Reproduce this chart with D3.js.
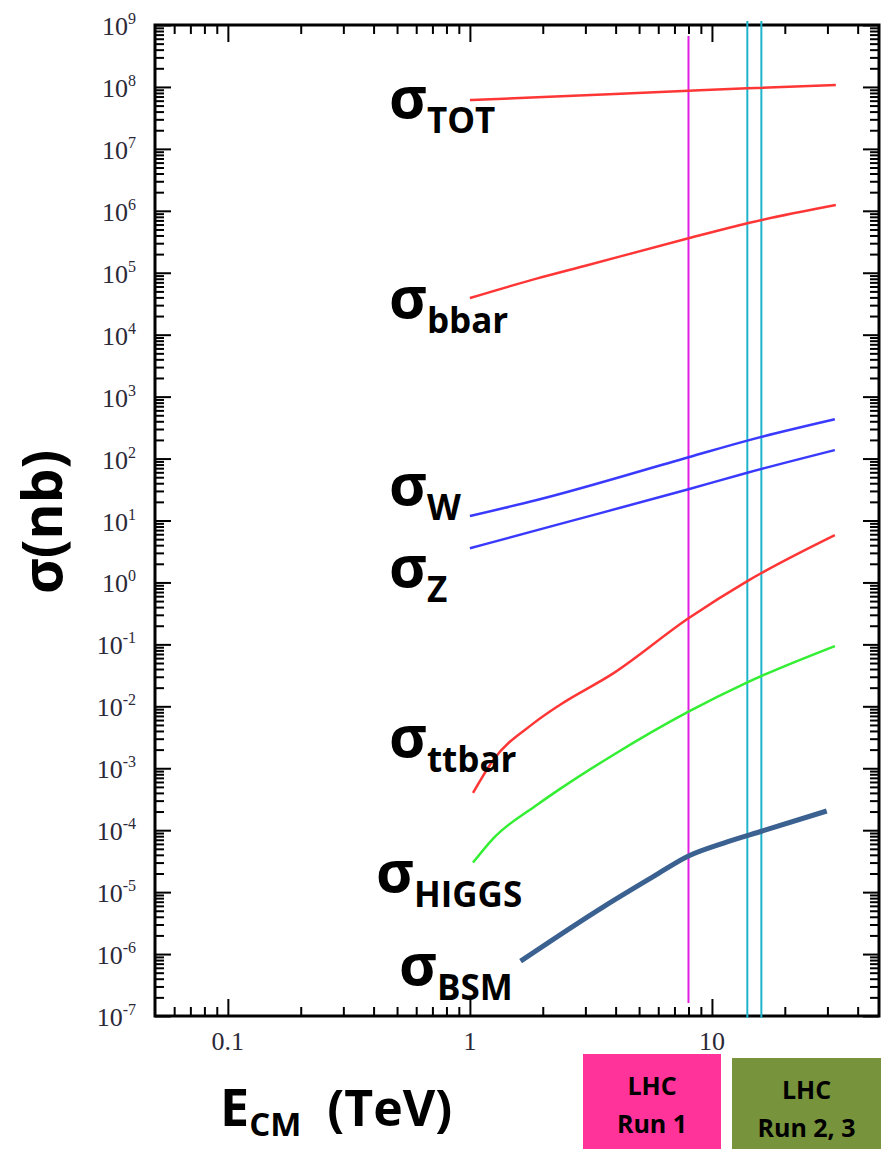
<!DOCTYPE html>
<html>
<head>
<meta charset="utf-8">
<script src="https://cdn.jsdelivr.net/npm/d3@7"></script>
<style>
  body { margin: 0; background: #fff; }
</style>
</head>
<body>
<script>
// cross sections in nb vs centre-of-mass energy in TeV
var totE = [1, 1.9, 8, 14, 32.5];
var totSigma = [6.15e7, 6.8e7, 8.7e7, 9.5e7, 1.07e8];

var bbarE = [1, 1.9, 3, 8, 14, 32.5];
var bbarSigma = [3.9e4, 8.1e4, 1.3e5, 3.6e5, 6.3e5, 1.24e6];

var wE = [1, 1.89, 8, 14, 32.2];
var wSigma = [11.8, 21.4, 105, 195, 430];

var zE = [1, 2.28, 8, 14, 32.2];
var zSigma = [3.56, 8.5, 31.9, 59, 137];

var ttbarE = [1.03, 1.25, 1.83, 2.35, 3.91, 8, 14, 32.2];
var ttbarSigma = [4.0e-4, 1.36e-3, 5.3e-3, 0.0105, 0.034, 0.264, 1.05, 5.8];

var higgsE = [1.03, 1.25, 1.89, 2.35, 3.91, 8, 14, 32.2];
var higgsSigma = [3.0e-5, 7.4e-5, 2.55e-4, 4.6e-4, 1.64e-3, 8.2e-3, 0.0244, 0.094];

var bsmE = [1.62, 3.56, 5.72, 8, 11.1, 16.3, 29.8];
var bsmSigma = [7.7e-7, 5.8e-6, 1.78e-5, 3.84e-5, 6.15e-5, 9.8e-5, 2.04e-4];

var run1E = [8];
var run23E = [14, 16];

var yExponents = [-7, -6, -5, -4, -3, -2, -1, 0, 1, 2, 3, 4, 5, 6, 7, 8, 9];
var xTickValues = [0.1, 1, 10];
var xTickLabels = ["0.1", "1", "10"];

var width = 881, height = 1149;

var svg = d3.select("body").append("svg")
    .attr("width", width)
    .attr("height", height)
    .style("font-family", "'Open Sans', sans-serif");

var x = d3.scaleLog().domain([0.05, 49]).range([155, 879]);
var y = d3.scaleLog().domain([1e-7, 1e9]).range([1016, 25]);

var majorY = yExponents.map(function (p) { return Math.pow(10, p); });
var minorY = [];
yExponents.slice(0, -1).forEach(function (p) {
    for (var k = 2; k <= 9; k++) minorY.push(k * Math.pow(10, p));
});
var minorX = [];
[-2, -1, 0, 1].forEach(function (p) {
    for (var k = 2; k <= 9; k++) {
        var v = k * Math.pow(10, p);
        if (v > 0.05 && v < 49) minorX.push(v);
    }
});

// frame ticks, all pointing inward
function ticks(axis, tx, ty) {
    var g = svg.append("g")
        .attr("transform", "translate(" + tx + "," + ty + ")")
        .call(axis.tickFormat("").tickSizeOuter(0));
    g.select(".domain").remove();
    g.selectAll("line").attr("stroke", "#000").attr("stroke-width", 2);
}
ticks(d3.axisRight(y).tickValues(majorY).tickSize(16), 155, 0);
ticks(d3.axisRight(y).tickValues(minorY).tickSize(9), 155, 0);
ticks(d3.axisLeft(y).tickValues(majorY).tickSize(16), 879, 0);
ticks(d3.axisLeft(y).tickValues(minorY).tickSize(9), 879, 0);
ticks(d3.axisBottom(x).tickValues(xTickValues).tickSize(17), 0, 25);
ticks(d3.axisBottom(x).tickValues(minorX).tickSize(9), 0, 25);
ticks(d3.axisTop(x).tickValues(xTickValues).tickSize(17), 0, 1016);
ticks(d3.axisTop(x).tickValues(minorX).tickSize(9), 0, 1016);

svg.append("rect")
    .attr("x", 155).attr("y", 25)
    .attr("width", 724).attr("height", 991)
    .attr("fill", "none")
    .attr("stroke", "#000")
    .attr("stroke-width", 3);

// y tick labels 10^n
var yl = svg.append("g")
    .style("font-family", "'Liberation Serif', serif")
    .attr("fill", "#2b2838");
yExponents.forEach(function (p) {
    var t = yl.append("text")
        .attr("x", 136)
        .attr("y", y(Math.pow(10, p)) + 10)
        .attr("text-anchor", "end")
        .style("font-size", "26px")
        .text("10");
    t.append("tspan")
        .attr("dy", -11)
        .style("font-size", "16px")
        .text(p < 0 ? "-" + (-p) : p);
});

// x tick labels
xTickValues.forEach(function (v, i) {
    svg.append("text")
        .attr("x", x(v))
        .attr("y", 1050)
        .attr("text-anchor", "middle")
        .style("font-family", "'Liberation Serif', serif")
        .style("font-size", "26px")
        .attr("fill", "#2b2838")
        .text(xTickLabels[i]);
});

// LHC run energies
run1E.forEach(function (e) {
    svg.append("line")
        .attr("x1", x(e)).attr("x2", x(e))
        .attr("y1", 36).attr("y2", 1003)
        .attr("stroke", "#e21ee2").attr("stroke-width", 2);
});
run23E.forEach(function (e) {
    svg.append("line")
        .attr("x1", x(e)).attr("x2", x(e))
        .attr("y1", 21).attr("y2", 1018)
        .attr("stroke", "#20b4cc").attr("stroke-width", 2);
});

var line = d3.line()
    .x(function (d) { return x(d[0]); })
    .y(function (d) { return y(d[1]); })
    .curve(d3.curveMonotoneX);

var series = [
    { e: totE, s: totSigma, color: "#ff3636", w: 2.5 },
    { e: bbarE, s: bbarSigma, color: "#ff3636", w: 2.5 },
    { e: wE, s: wSigma, color: "#3a3aff", w: 2.5 },
    { e: zE, s: zSigma, color: "#3a3aff", w: 2.5 },
    { e: ttbarE, s: ttbarSigma, color: "#ff3636", w: 2.5 },
    { e: higgsE, s: higgsSigma, color: "#33ee33", w: 2.5 },
    { e: bsmE, s: bsmSigma, color: "#3a6190", w: 5 }
];
series.forEach(function (d) {
    svg.append("path")
        .datum(d3.zip(d.e, d.s))
        .attr("d", line)
        .attr("fill", "none")
        .attr("stroke", d.color)
        .attr("stroke-width", d.w);
});

// curve labels
var labels = [
    { sub: "TOT", x: 389, y: 118 },
    { sub: "bbar", x: 389, y: 318 },
    { sub: "W", x: 389, y: 505 },
    { sub: "Z", x: 389, y: 587 },
    { sub: "ttbar", x: 389, y: 757 },
    { sub: "HIGGS", x: 376, y: 892 },
    { sub: "BSM", x: 399, y: 985 }
];
labels.forEach(function (d) {
    var t = svg.append("text")
        .attr("x", d.x).attr("y", d.y)
        .style("font-weight", "bold")
        .style("font-size", "58px")
        .text("σ");
    t.append("tspan")
        .attr("dy", 15)
        .style("font-size", "35px")
        .text(d.sub);
});

// axis titles
svg.append("text")
    .attr("transform", "translate(62,522) rotate(-90)")
    .attr("text-anchor", "middle")
    .style("font-weight", "bold")
    .style("font-size", "55px")
    .text("σ(nb)");

var xt = svg.append("text")
    .attr("x", 220).attr("y", 1126)
    .style("font-weight", "bold")
    .style("font-size", "52px")
    .text("E");
xt.append("tspan").attr("dy", 10).style("font-size", "33px").text("CM");
xt.append("tspan").attr("dy", -10).style("font-size", "50px").text("\u00a0 (TeV)");

// LHC run boxes
var boxes = [
    { x0: 583, x1: 721, y0: 1054, color: "#ff3399", lines: ["LHC", "Run 1"] },
    { x0: 732, x1: 881, y0: 1058, color: "#77933c", lines: ["LHC", "Run 2, 3"] }
];
boxes.forEach(function (b) {
    svg.append("rect")
        .attr("x", b.x0).attr("y", b.y0)
        .attr("width", b.x1 - b.x0).attr("height", height - b.y0)
        .attr("fill", b.color);
    b.lines.forEach(function (s, i) {
        svg.append("text")
            .attr("x", (b.x0 + b.x1) / 2)
            .attr("y", b.y0 + 41 + i * 38)
            .attr("text-anchor", "middle")
            .style("font-weight", "bold")
            .style("font-size", "25px")
            .text(s);
    });
});
</script>
</body>
</html>
